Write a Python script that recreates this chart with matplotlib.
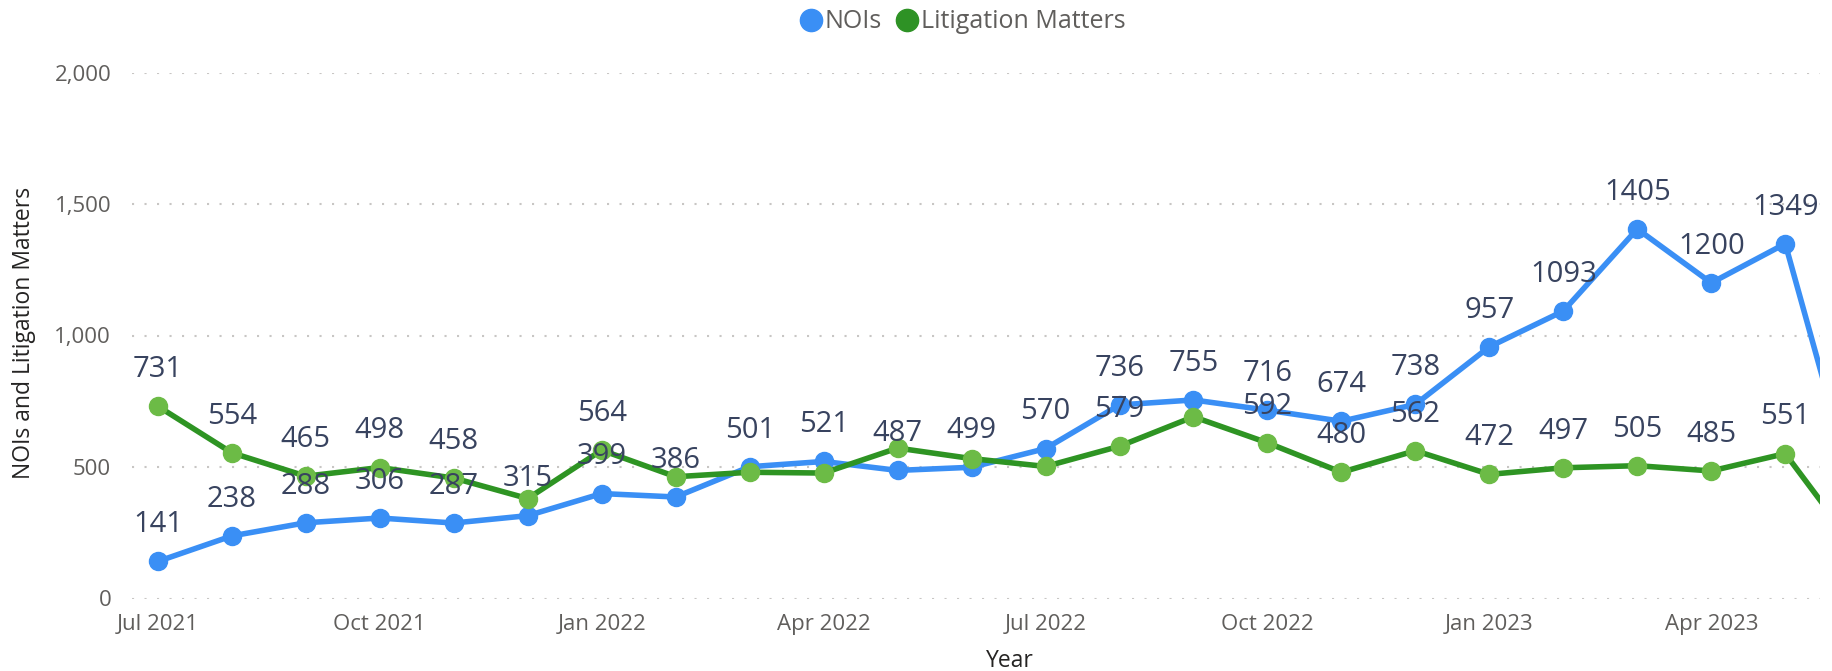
import matplotlib
matplotlib.use("Agg")
import matplotlib.pyplot as plt
from matplotlib.lines import Line2D
from matplotlib.ticker import FuncFormatter
import numpy as np

plt.rcParams['font.family'] = ['Open Sans', 'DejaVu Sans']

# months Jul 2021 .. Jun 2023 (last month is cut off at the right edge)
months = ['Jul 2021', 'Aug 2021', 'Sep 2021', 'Oct 2021', 'Nov 2021', 'Dec 2021',
          'Jan 2022', 'Feb 2022', 'Mar 2022', 'Apr 2022', 'May 2022', 'Jun 2022',
          'Jul 2022', 'Aug 2022', 'Sep 2022', 'Oct 2022', 'Nov 2022', 'Dec 2022',
          'Jan 2023', 'Feb 2023', 'Mar 2023', 'Apr 2023', 'May 2023', 'Jun 2023']
nois = [141, 238, 288, 306, 287, 315, 399, 386, 501, 521, 487, 499,
        570, 736, 755, 716, 674, 738, 957, 1093, 1405, 1200, 1349, 340]
litigation = [731, 554, 465, 498, 458, 380, 564, 463, 480, 477, 572, 532,
              502, 579, 691, 592, 480, 562, 472, 497, 505, 485, 551, 175]
# Power BI hides labels that collide
lit_label_shown = [1, 1, 1, 1, 1, 0, 1, 0, 0, 0, 0, 0,
                   0, 1, 0, 1, 1, 1, 1, 1, 1, 1, 1, 1]
yticks = [0, 500, 1000, 1500, 2000]

blue = '#3a8ff5'
green_line = '#2e9423'
green_marker = '#6cbb46'
label_col = '#38435f'
tick_col = '#605e5c'
title_col = '#252423'

W, H = 1833, 671
fig = plt.figure(figsize=(W / 100, H / 100), dpi=100)
ax = fig.add_axes([132 / W, 72.5 / H, (1820 - 132) / W, 526 / H])

x = np.arange(len(months))
ax.plot(x, nois, color=blue, lw=4, marker='o', markersize=13,
        markerfacecolor=blue, markeredgecolor=blue, zorder=3)
ax.plot(x, litigation, color=green_line, lw=4, marker='o', markersize=13,
        markerfacecolor=green_marker, markeredgecolor=green_marker, zorder=4)

for i, v in enumerate(nois):
    ax.annotate(str(v), (x[i], v), xytext=(0, 21), textcoords='offset points',
                ha='center', va='baseline', fontsize=21, color=label_col, zorder=5)
for i, v in enumerate(litigation):
    if lit_label_shown[i]:
        ax.annotate(str(v), (x[i], v), xytext=(0, 21), textcoords='offset points',
                    ha='center', va='baseline', fontsize=21, color=label_col, zorder=5)

ax.set_xlim(-0.35, 22.47)
ax.set_ylim(0, 2000)
ax.set_yticks(yticks)
ax.yaxis.set_major_formatter(FuncFormatter(lambda v, p: f'{v:,.0f}'))
ax.set_xticks(x[::3])
ax.set_xticklabels(months[::3])
ax.tick_params(axis='both', length=0, labelsize=16, labelcolor=tick_col)
ax.tick_params(axis='y', pad=15)
ax.tick_params(axis='x', pad=11)
ax.yaxis.grid(True, linestyle=(0, (1, 5)), color='#c8c6c4', lw=1.5)
ax.set_axisbelow(True)
for s in ax.spines.values():
    s.set_visible(False)

fig.text(24 / W, 1 - 333 / H, 'NOIs and Litigation Matters', rotation=90,
         ha='center', va='center', fontsize=16.5, color=title_col)
fig.text(1010 / W, 1 - 661 / H, 'Year', ha='center', va='center',
         fontsize=16.5, color=title_col)

handles = [Line2D([], [], ls='', marker='o', markersize=16, color=blue),
           Line2D([], [], ls='', marker='o', markersize=16, color='#2e9225')]
fig.legend(handles, ['NOIs', 'Litigation Matters'], loc='center',
           bbox_to_anchor=(962 / W, 1 - 22 / H), ncol=2, frameon=False,
           fontsize=18, labelcolor=tick_col, handletextpad=0.05,
           columnspacing=0.5, handlelength=1.0)

fig.savefig('out.png', dpi=100)
